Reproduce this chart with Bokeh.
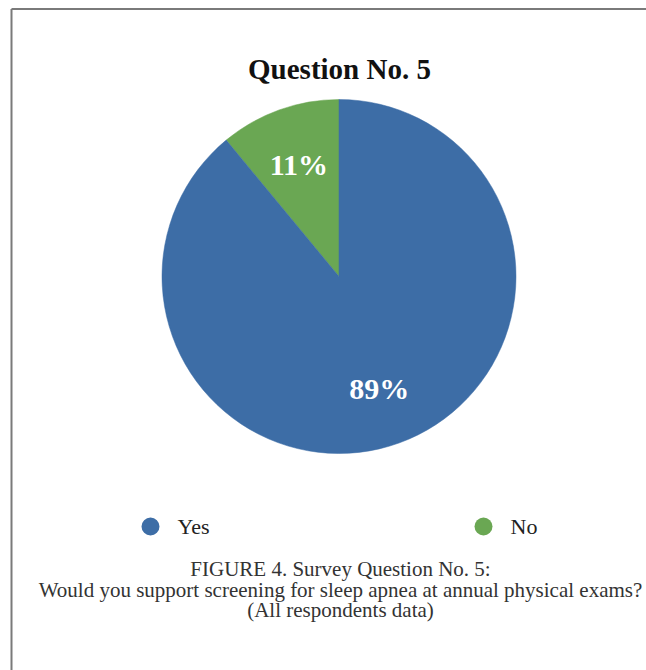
import math
from bokeh.plotting import figure
from bokeh.models import Range1d, ColumnDataSource
from bokeh.core.properties import value
from bokeh.embed import file_html
from bokeh.resources import INLINE

# ---- data ----
title = "Question No. 5"
categories = ["No", "Yes"]          # drawn anticlockwise from 12 o'clock
percents = [11, 89]
colors = ["#6aa753", "#3d6da6"]
legend_order = ["Yes", "No"]
caption_lines = [
    "FIGURE 4. Survey Question No. 5:",
    "Would you support screening for sleep apnea at annual physical exams?",
    "(All respondents data)",
]

W, H = 646, 670
def px(x):  # page x -> data x
    return x
def py(y):  # page y -> data y
    return H - y

p = figure(width=W, height=H, x_range=Range1d(0, W), y_range=Range1d(0, H),
           output_backend="svg", toolbar_location=None, min_border=0)
p.axis.visible = False
p.grid.visible = False
p.outline_line_color = None
p.background_fill_color = "white"
p.border_fill_color = "white"

# border (top and left only visible in the crop)
p.segment(x0=[px(11), px(11)], y0=[py(8.5), py(8.5)], x1=[px(646), px(11)], y1=[py(8.5), py(670)],
          line_color="#7a7a7a", line_width=2)

# pie
cx, cy, R = px(338.5), py(276), 177
total = sum(percents)
starts, ends, mids = [], [], []
a = math.pi / 2
for v in percents:
    s = a
    e = a + 2 * math.pi * v / total
    starts.append(s); ends.append(e); mids.append((s + e) / 2)
    a = e
src = ColumnDataSource(dict(cat=categories, start=starts, end=ends, color=colors,
                            lx=[cx + 0.67 * R * math.cos(m) for m in mids],
                            ly=[cy + 0.67 * R * math.sin(m) for m in mids],
                            lab=[f"{v}%" for v in percents]))
p.wedge(x=cx, y=cy, radius=R, start_angle="start", end_angle="end", direction="anticlock",
        fill_color="color", line_color="color", line_width=0.5, source=src)
p.text(x="lx", y="ly", text="lab", source=src, text_color="white",
       text_font=value("Liberation Serif"), text_font_style="bold", text_font_size="30px",
       text_align="center", text_baseline="middle")

# title
p.text(x=[px(339)], y=[py(68)], text=[title], text_font=value("Liberation Serif"),
       text_font_style="bold", text_font_size="29px", text_color="#111111",
       text_align="center", text_baseline="middle")

# legend
leg_x = [px(150), px(483)]
leg_colors = [colors[categories.index(c)] for c in legend_order]
p.scatter(x=leg_x, y=[py(526)] * 2, size=18, marker="circle", fill_color=leg_colors, line_color=None)
p.text(x=[x + 27 for x in leg_x], y=[py(526)] * 2, text=legend_order,
       text_font=value("Liberation Serif"), text_font_size="22px", text_color="#222222",
       text_align="left", text_baseline="middle")

# caption
cap_y = [py(568), py(589), py(609)]
p.text(x=[px(340)] * 3, y=cap_y, text=caption_lines, text_font=value("Liberation Serif"),
       text_font_size="21px", text_color="#333333", text_align="center", text_baseline="middle")

open("out.html", "w").write(file_html(p, INLINE))
